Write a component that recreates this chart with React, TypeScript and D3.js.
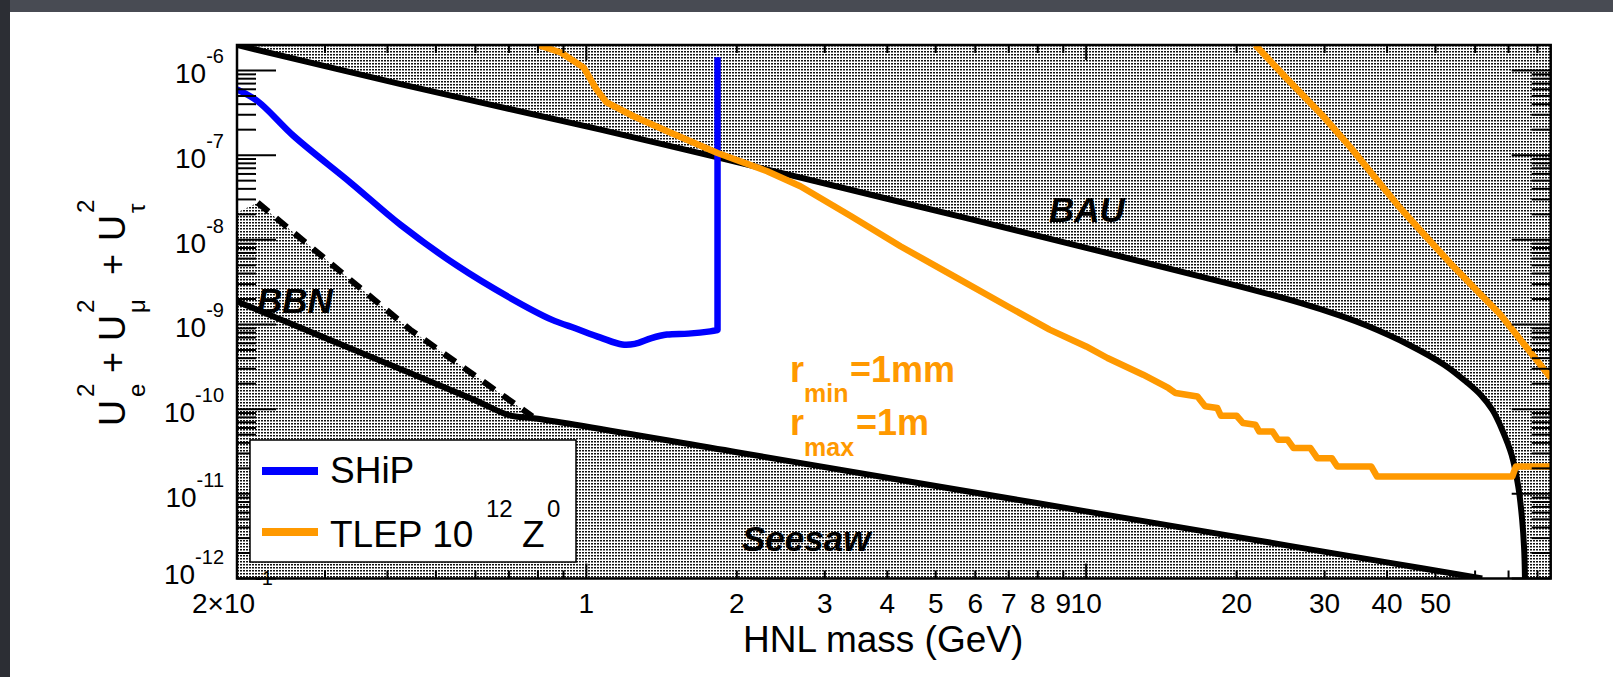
import React from "react";
import * as d3 from "d3";

const W = 1613;
const H = 677;

// upper bound from baryon asymmetry (BAU)
const bauMass = [0.2, 0.425, 1.068, 1.83, 4.25, 10, 20, 26.8, 32, 36.5, 44.2, 52.1, 57.8, 61.6, 65, 68, 71, 73.2, 74.5, 75.2, 75.5];
const bauU2 = [2.0e-6, 6.9e-7, 2.0e-7, 9.4e-8, 2.8e-8, 8.05e-9, 2.88e-9, 1.8e-9, 1.29e-9, 9.66e-10, 5.77e-10, 3.33e-10, 2.07e-10, 1.47e-10, 9.77e-11, 5.68e-11, 2.88e-11, 1.22e-11, 5.05e-12, 2.29e-12, 1.0e-12];

// lower bound: BBN then seesaw
const lowerMass = [0.2, 0.3, 0.45, 0.6, 0.7, 0.8, 2, 5, 10, 20, 40, 62];
const lowerU2 = [1.87e-9, 6.95e-10, 2.58e-10, 1.27e-10, 8.5e-11, 7.7e-11, 3.1e-11, 1.24e-11, 6.2e-12, 3.1e-12, 1.55e-12, 1.0e-12];

// alternative BBN bound (dashed)
const bbnDashMass = [0.22, 0.444, 0.78];
const bbnDashU2 = [2.75e-8, 8.7e-10, 8.2e-11];
const bbnShadeLeftU2 = 2.1e-8;

// SHiP sensitivity
const shipMass = [0.2, 0.22, 0.26, 0.338, 0.425, 0.55, 0.7, 0.85, 0.956, 1.068, 1.18, 1.25, 1.35, 1.45, 1.6, 1.77, 1.83, 1.83];
const shipU2 = [5.96e-7, 4.33e-7, 1.67e-7, 4.7e-8, 1.5e-8, 5.0e-9, 2.1e-9, 1.15e-9, 8.9e-10, 7.0e-10, 5.8e-10, 5.9e-10, 6.9e-10, 7.6e-10, 7.8e-10, 8.3e-10, 8.6e-10, 1.43e-6];

// TLEP 10^12 Z0, lower edge
const tlepMass = [0.8, 0.889, 0.988, 1.048, 1.098, 1.243, 1.452, 1.83, 2.3, 2.68, 3.38, 4.25, 5.5, 7.0, 8.45, 10.0, 11.03, 13.0, 14.6, 15.1, 16.7, 17.3, 18.3, 18.6, 20.0, 20.6, 21.8, 22.2, 23.6, 24.2, 25.3, 26.0, 28.1, 29.0, 31.0, 31.8, 37.2, 38.2, 71.2, 72.4, 85];
const tlepU2 = [2.0e-6, 1.63e-6, 1.08e-6, 5.96e-7, 4.19e-7, 2.88e-7, 1.92e-7, 1.06e-7, 6.46e-8, 4.29e-8, 1.91e-8, 8.4e-9, 3.58e-9, 1.61e-9, 8.7e-10, 5.5e-10, 4.02e-10, 2.55e-10, 1.78e-10, 1.55e-10, 1.41e-10, 1.08e-10, 1.03e-10, 8.36e-11, 8.36e-11, 6.85e-11, 6.55e-11, 5.44e-11, 5.44e-11, 4.35e-11, 4.35e-11, 3.47e-11, 3.47e-11, 2.64e-11, 2.64e-11, 2.1e-11, 2.1e-11, 1.6e-11, 1.6e-11, 2.1e-11, 2.1e-11];

// TLEP upper edge
const tlepHiMass = [21.8, 25.3, 29.8, 33.9, 38, 42.4, 47, 53.4, 60, 67.4, 75, 85];
const tlepHiU2 = [2.0e-6, 7.83e-7, 2.88e-7, 1.21e-7, 5.28e-8, 2.41e-8, 1.23e-8, 5.37e-9, 2.65e-9, 1.31e-9, 5.94e-10, 2.35e-10];

const xLabels = [1, 2, 3, 4, 5, 6, 7, 8, 9, 10, 20, 30, 40, 50];
const yExponents = [-6, -7, -8, -9, -10, -11, -12];

const FONT = "'Liberation Sans', Arial, Helvetica, sans-serif";
const ORANGE = "#ff9900";
const BLUE = "#0000ff";

export default function App() {
  const x = d3.scaleLog().domain([0.2, 85]).range([237, 1550.7]);
  const y = d3.scaleLog().domain([1e-12, 2e-6]).range([578.5, 45]);
  const [x0, x1] = x.range();
  const [yb, yt] = y.range();

  const pts = (ms: number[], us: number[]) =>
    ms.map((m, i) => [x(m), y(us[i])] as [number, number]);
  const lin = d3.line().curve(d3.curveLinear);
  const smooth = d3.line().curve(d3.curveCatmullRom.alpha(0.5));

  const bauPts = pts(bauMass, bauU2);
  const bauPath = smooth(bauPts)!;
  const bauShade = `${bauPath}L${x1},${yb}L${x1},${yt}Z`;

  const lowerPts = pts(lowerMass, lowerU2);
  const dashPts = pts(bbnDashMass, bbnDashU2);
  const lowerShade =
    lin([
      [x0, y(bbnShadeLeftU2)],
      ...dashPts,
      ...lowerPts.filter((_, i) => lowerMass[i] > bbnDashMass[bbnDashMass.length - 1]),
      [x0, yb],
    ])! + "Z";

  const shipPts = pts(shipMass, shipU2);
  const shipPath =
    smooth(shipPts.slice(0, -1))! + lin(shipPts.slice(-2))!.replace(/^M/, "L");

  // log ticks
  const yMinor: number[] = [];
  for (let e = -12; e <= -6; e++) {
    for (let k = 2; k <= 9; k++) {
      const v = k * Math.pow(10, e);
      if (v < 2e-6 * 0.999) yMinor.push(v);
    }
  }
  const xMinor: number[] = [];
  for (let e = -1; e <= 1; e++) {
    for (let k = 2; k <= 9; k++) {
      const v = k * Math.pow(10, e);
      if (v > 0.2 * 1.001 && v < 85) xMinor.push(v);
    }
  }
  const xMajor = [1, 10];

  return (
    <svg
      width={W}
      height={H}
      style={{ position: "absolute", left: 0, top: 0, fontFamily: FONT }}
    >
      <defs>
        <pattern id="dots" width={3} height={3} patternUnits="userSpaceOnUse">
          <rect width={3} height={3} fill="#fff" />
          <rect x={0} y={0} width={2} height={1.5} fill="#111" />
        </pattern>
        <clipPath id="frame">
          <rect x={x0} y={yt} width={x1 - x0} height={yb - yt} />
        </clipPath>
      </defs>

      {/* slide background */}
      <rect width={W} height={H} fill="#2c2e34" />
      <rect x={10} y={0} width={W - 10} height={12} fill="#484b53" />
      <rect x={10} y={12} width={W - 10} height={H - 12} fill="#fff" />

      <g clipPath="url(#frame)">
        <path d={bauShade} fill="url(#dots)" />
        <path d={lowerShade} fill="url(#dots)" />

        <path d={lin(dashPts)!} fill="none" stroke="#000" strokeWidth={6} strokeDasharray="14,10" />
        <path d={smooth(lowerPts)!} fill="none" stroke="#000" strokeWidth={6} />
        <path d={bauPath} fill="none" stroke="#000" strokeWidth={6} />

        <path d={shipPath} fill="none" stroke={BLUE} strokeWidth={6.5} strokeLinejoin="round" />
        <path d={lin(pts(tlepMass, tlepU2))!} fill="none" stroke={ORANGE} strokeWidth={6.5} strokeLinejoin="round" />
        <path d={lin(pts(tlepHiMass, tlepHiU2))!} fill="none" stroke={ORANGE} strokeWidth={6.5} strokeLinejoin="round" />
      </g>

      {/* ticks */}
      <g stroke="#000" strokeWidth={2}>
        {yExponents.map((e) => {
          const yy = y(Math.pow(10, e));
          return (
            <g key={"ym" + e}>
              <line x1={x0} x2={x0 + 39} y1={yy} y2={yy} />
              <line x1={x1} x2={x1 - 39} y1={yy} y2={yy} />
            </g>
          );
        })}
        {yMinor.map((v, i) => (
          <g key={"yn" + i}>
            <line x1={x0} x2={x0 + 19} y1={y(v)} y2={y(v)} />
            <line x1={x1} x2={x1 - 19} y1={y(v)} y2={y(v)} />
          </g>
        ))}
        {xMajor.map((v) => (
          <g key={"xm" + v}>
            <line x1={x(v)} x2={x(v)} y1={yb} y2={yb - 15} />
            <line x1={x(v)} x2={x(v)} y1={yt} y2={yt + 15} />
          </g>
        ))}
        {xMinor.map((v, i) => (
          <g key={"xn" + i}>
            <line x1={x(v)} x2={x(v)} y1={yb} y2={yb - 8} />
            <line x1={x(v)} x2={x(v)} y1={yt} y2={yt + 8} />
          </g>
        ))}
      </g>
      <rect x={x0} y={yt} width={x1 - x0} height={yb - yt} fill="none" stroke="#000" strokeWidth={2.5} />

      {/* y tick labels */}
      {yExponents.map((e, i) => {
        const yy = y(Math.pow(10, e)) + (i === yExponents.length - 1 ? 5 : 13);
        return (
          <text key={"yl" + e} x={224} y={yy} textAnchor="end" fontSize={28}>
            10
            <tspan dy={-20} fontSize={20}>{`${e}`}</tspan>
          </text>
        );
      })}

      {/* x tick labels */}
      <text x={192} y={613} fontSize={28}>
        2×10
        <tspan dy={-28} fontSize={20}>-1</tspan>
      </text>
      {xLabels.map((v) => (
        <text key={"xl" + v} x={x(v)} y={613} textAnchor="middle" fontSize={28}>
          {v}
        </text>
      ))}

      {/* axis titles */}
      <text x={743} y={652} fontSize={37}>HNL mass (GeV)</text>
      <g transform="translate(125,423) rotate(-90)" fontSize={36}>
        <text x={-3} y={0}>U</text>
        <text x={26} y={-31} fontSize={24}>2</text>
        <text x={26} y={20} fontSize={24}>e</text>
        <text x={50} y={0}>+</text>
        <text x={82} y={0}>U</text>
        <text x={110} y={-31} fontSize={24}>2</text>
        <text x={110} y={20} fontSize={24}>μ</text>
        <text x={148} y={0}>+</text>
        <text x={182} y={0}>U</text>
        <text x={210} y={-31} fontSize={24}>2</text>
        <text x={210} y={20} fontSize={24}>τ</text>
      </g>

      {/* region labels */}
      <g fontSize={35} fontWeight="bold" fontStyle="italic">
        <text x={1049} y={222}>BAU</text>
        <text x={257} y={313}>BBN</text>
        <text x={742} y={551}>Seesaw</text>
      </g>

      {/* TLEP decay length note */}
      <g fill={ORANGE} fontWeight="bold">
        <text x={790} y={382} fontSize={36}>r</text>
        <text x={804} y={402} fontSize={25}>min</text>
        <text x={850} y={382} fontSize={36}>=1mm</text>
        <text x={790} y={435} fontSize={36}>r</text>
        <text x={804} y={456} fontSize={25}>max</text>
        <text x={856} y={435} fontSize={36}>=1m</text>
      </g>

      {/* legend */}
      <rect x={250} y={440} width={326} height={122} fill="#fff" stroke="#000" strokeWidth={1.5} />
      <line x1={262} x2={318} y1={471} y2={471} stroke={BLUE} strokeWidth={8} />
      <line x1={262} x2={318} y1={532} y2={532} stroke={ORANGE} strokeWidth={8} />
      <text x={330} y={483} fontSize={37}>SHiP</text>
      <text x={330} y={547} fontSize={37}>TLEP 10</text>
      <text x={486} y={517} fontSize={24}>12</text>
      <text x={522} y={547} fontSize={37}>Z</text>
      <text x={547} y={517} fontSize={24}>0</text>
    </svg>
  );
}
